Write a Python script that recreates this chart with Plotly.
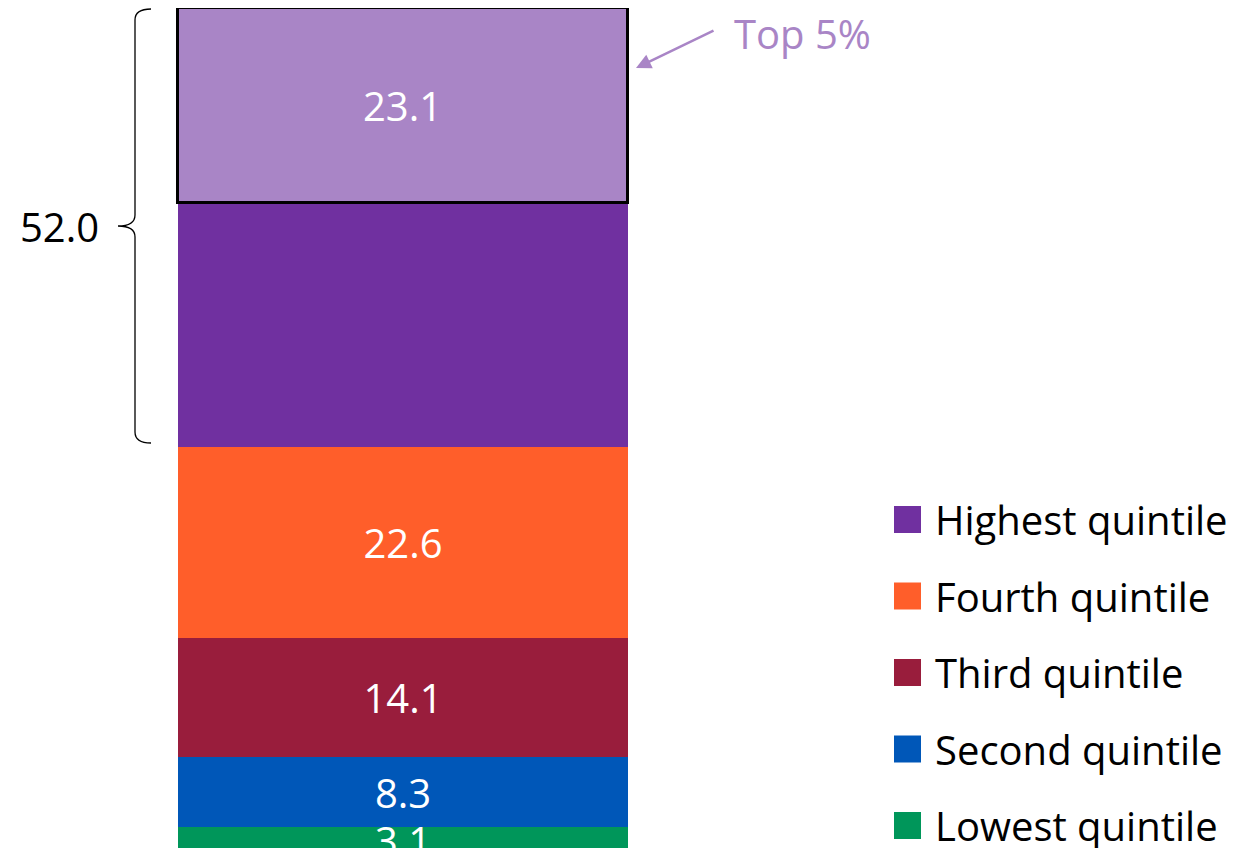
import plotly.graph_objects as go

# ── Datos ─────────────────────────────────────────────────────────────────────
QUINTILES = ["Lowest quintile", "Second quintile", "Third quintile",
             "Fourth quintile", "Highest quintile"]
SHARES = [3.1, 8.3, 14.1, 22.6, 52.0]
TOP5_SHARE = 23.1
COLORS = ["#00965a", "#0057b8", "#991d3c", "#ff5e2a", "#7030a0"]
TOP5_COLOR = "#a985c6"

FONT = "Open Sans"
PAGE_W, PAGE_H = 1242, 848
OFF = 8                          # margen por defecto del <body>
W, H = PAGE_W - OFF, PAGE_H - OFF
BAR_LEFT_PX, BAR_W_PX = 178, 450  # en píxeles de la página


def px_x(px):
    """Píxel horizontal de la página -> coordenada 'paper'."""
    return (px - OFF) / W


total = round(sum(SHARES), 1)
highest = SHARES[-1]
highest_rest = round(highest - TOP5_SHARE, 1)

fig = go.Figure()

# stack: cuatro quintiles inferiores
for name, val, col in zip(QUINTILES[:-1], SHARES[:-1], COLORS[:-1]):
    fig.add_trace(go.Bar(
        x=[0], y=[val], name=name, width=1,
        marker=dict(color=col, line=dict(width=0)),
        text=[f"{val:.1f}"], textposition="inside",
        insidetextanchor="middle", constraintext="none",
        textfont=dict(color="white", size=40, family=FONT),
        showlegend=False,
    ))

# quintil superior sin el top 5%
fig.add_trace(go.Bar(
    x=[0], y=[highest_rest], name=QUINTILES[-1], width=1,
    marker=dict(color=COLORS[-1], line=dict(width=0)),
    showlegend=False,
))

# top 5%
fig.add_trace(go.Bar(
    x=[0], y=[TOP5_SHARE], name="Top 5%", width=1,
    marker=dict(color=TOP5_COLOR, line=dict(color="black", width=3)),
    text=[f"{TOP5_SHARE:.1f}"], textposition="inside",
    insidetextanchor="middle", constraintext="none",
    textfont=dict(color="white", size=40, family=FONT),
    showlegend=False,
))

# ejes: el área de trazado ocupa toda la figura
x0 = -0.5 - (BAR_LEFT_PX - OFF) / BAR_W_PX
x1 = x0 + W / BAR_W_PX
unit_px = (447 - OFF) / highest          # píxeles por punto porcentual
y_bottom = total - H / unit_px

fig.update_layout(
    width=W, height=H,
    barmode="stack",
    bargap=0,
    plot_bgcolor="white",
    paper_bgcolor="white",
    font=dict(family=FONT, size=40, color="black"),
    margin=dict(l=0, r=0, t=0, b=0),
    showlegend=False,
)
fig.update_xaxes(range=[x0, x1], visible=False)
fig.update_yaxes(range=[y_bottom, total], visible=False)

# ── Llave del quintil superior ────────────────────────────────────────────────
ytop = total - 1 / unit_px
ybot = total - highest + 4 / unit_px
ymid = (ytop + ybot) / 2
r = 11 / unit_px
xh, xv, xt = px_x(151), px_x(135), px_x(118)
path = (f"M {xh},{ytop} Q {xv},{ytop} {xv},{ytop - r} "
        f"L {xv},{ymid + r} Q {xv},{ymid} {xt},{ymid} "
        f"Q {xv},{ymid} {xv},{ymid - r} "
        f"L {xv},{ybot + r} Q {xv},{ybot} {xh},{ybot}")
fig.add_shape(type="path", path=path, xref="paper", yref="y",
              line=dict(color="black", width=1.3))
fig.add_annotation(x=px_x(59), y=ymid, xref="paper", yref="y",
                   text=f"{highest:.1f}", showarrow=False,
                   xanchor="center", yanchor="middle",
                   font=dict(size=40, color="black", family=FONT))

# ── Flecha "Top 5%" ──────────────────────────────────────────────────────────
fig.add_annotation(x=px_x(636), y=total - 60 / unit_px, xref="paper", yref="y",
                   text="", showarrow=True, ax=79, ay=-38,
                   arrowhead=2, arrowsize=1.2, arrowwidth=2.5,
                   arrowcolor=TOP5_COLOR)
fig.add_annotation(x=px_x(802), y=total - 25 / unit_px, xref="paper", yref="y",
                   text="Top 5%", showarrow=False,
                   xanchor="center", yanchor="middle",
                   font=dict(size=40, color=TOP5_COLOR, family=FONT))

# ── Leyenda ───────────────────────────────────────────────────────────────────
for i, (name, col) in enumerate(zip(QUINTILES[::-1], COLORS[::-1])):
    cy = 519.5 + i * 76.5
    yp = (PAGE_H - cy) / H
    half = 13.5 / H
    fig.add_shape(type="rect", xref="paper", yref="paper",
                  x0=px_x(894), x1=px_x(921), y0=yp - half, y1=yp + half,
                  fillcolor=col, line=dict(width=0))
    fig.add_annotation(x=px_x(933), y=yp, xref="paper", yref="paper",
                       text=name, showarrow=False,
                       xanchor="left", yanchor="middle",
                       font=dict(size=40, color="black", family=FONT))

fig.write_html("out.html")
